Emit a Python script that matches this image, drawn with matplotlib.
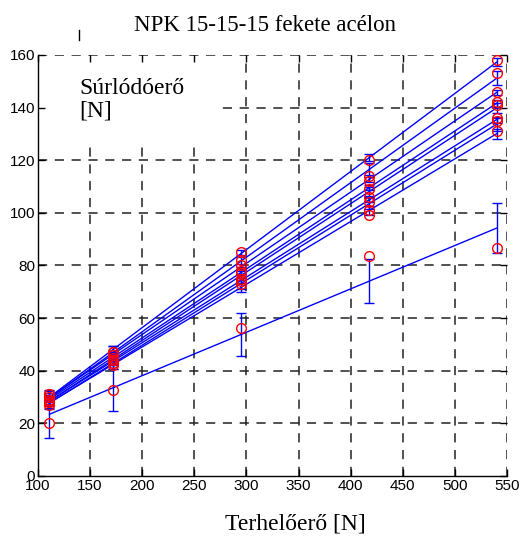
import numpy as np
import matplotlib
matplotlib.use("Agg")
import matplotlib.pyplot as plt
from matplotlib.patches import Rectangle
from matplotlib.lines import Line2D

# load levels [N]
terheles = np.array([111, 172, 295, 418, 540], dtype=float)

# measured friction forces [N], one row per measurement series
surlodas_1 = [31, 47, 85, 120, 158]
surlodas_2 = [31, 46, 82, 114, 153]
surlodas_3 = [29, 47, 80, 112, 146]
surlodas_4 = [30, 44, 78, 109, 142]
surlodas_5 = [28, 45, 77, 106, 141]
surlodas_6 = [29, 43, 75, 104, 136]
surlodas_7 = [27, 44, 74, 101, 135]
surlodas_8 = [28, 42, 73, 99, 131]
surlodas_9 = [20.2, 32.5, 56.4, 83.5, 86.5]

series = [surlodas_1, surlodas_2, surlodas_3, surlodas_4, surlodas_5,
          surlodas_6, surlodas_7, surlodas_8, surlodas_9]


def linfit_delta(x, y):
    '''
    Linear fit plus the prediction error estimate (like polyval's delta).
    '''
    y = np.asarray(y, dtype=float)
    p = np.polyfit(x, y, 1)
    yfit = np.polyval(p, x)
    n = len(x)
    s = np.sqrt(np.sum((y - yfit) ** 2) / (n - 2))
    dx = x - x.mean()
    delta = s * np.sqrt(1 + 1.0 / n + dx ** 2 / np.sum(dx ** 2))
    return yfit, delta


serif = 'Liberation Serif'
sans = 'Liberation Sans'

fig = plt.figure(figsize=(5.22, 5.37), dpi=100)
ax = fig.add_axes([0.0728, 0.1136, 0.8985, 0.784])

ax.set_xlim(100, 550)
ax.set_ylim(0, 160)
ax.set_xticks(np.arange(100, 551, 50))
ax.set_yticks(np.arange(0, 161, 20))

#### dashed grid drawn by hand so the label box can sit over it
for gx in np.arange(150, 551, 50):
    ax.axvline(gx, color='#222222', lw=1.1, ls=(0, (6, 5)), zorder=0.5)
for gy in np.arange(20, 161, 20):
    ax.axhline(gy, color='#222222', lw=1.1, ls=(0, (6, 5)), zorder=0.5)

ax.add_patch(Rectangle((100.5, 126), 176, 33.3, facecolor='white',
                       edgecolor='none', zorder=0.8))

for y in series:
    yfit, delta = linfit_delta(terheles, y)
    ax.plot(terheles, yfit, color='blue', lw=1.0, zorder=2)
    ax.errorbar(terheles, yfit, yerr=delta, fmt='none', ecolor='blue',
                elinewidth=1.0, capsize=3.5, capthick=1.0, zorder=2.5)
    ax.plot(terheles, y, 'o', mfc='none', mec='red', mew=1.0, ms=7,
            zorder=3)

ax.spines['top'].set_visible(False)
ax.spines['right'].set_visible(False)
ax.spines['left'].set_linewidth(1.0)
ax.spines['bottom'].set_linewidth(1.0)
ax.tick_params(direction='in', length=5, width=1.0, top=True, right=True,
               labelsize=11, pad=2)
for lab in ax.get_xticklabels() + ax.get_yticklabels():
    lab.set_family(sans)

ax.text(0.088, 0.945, 'Súrlódóerő\n[N]', transform=ax.transAxes,
        family=serif, fontsize=17, va='top', ha='left', linespacing=1.1,
        zorder=4)

fig.text(0.508, 0.953, 'NPK 15-15-15 fekete acélon', family=serif,
         fontsize=16.5, ha='center', va='center')
fig.text(0.566, 0.024, 'Terhelőerő [N]', family=serif, fontsize=17,
         ha='center', va='center')

fig.add_artist(Line2D([79 / 522, 79 / 522], [1 - 30 / 537, 1 - 40 / 537],
                      color='black', lw=1.0))

fig.savefig('out.png', dpi=100)
